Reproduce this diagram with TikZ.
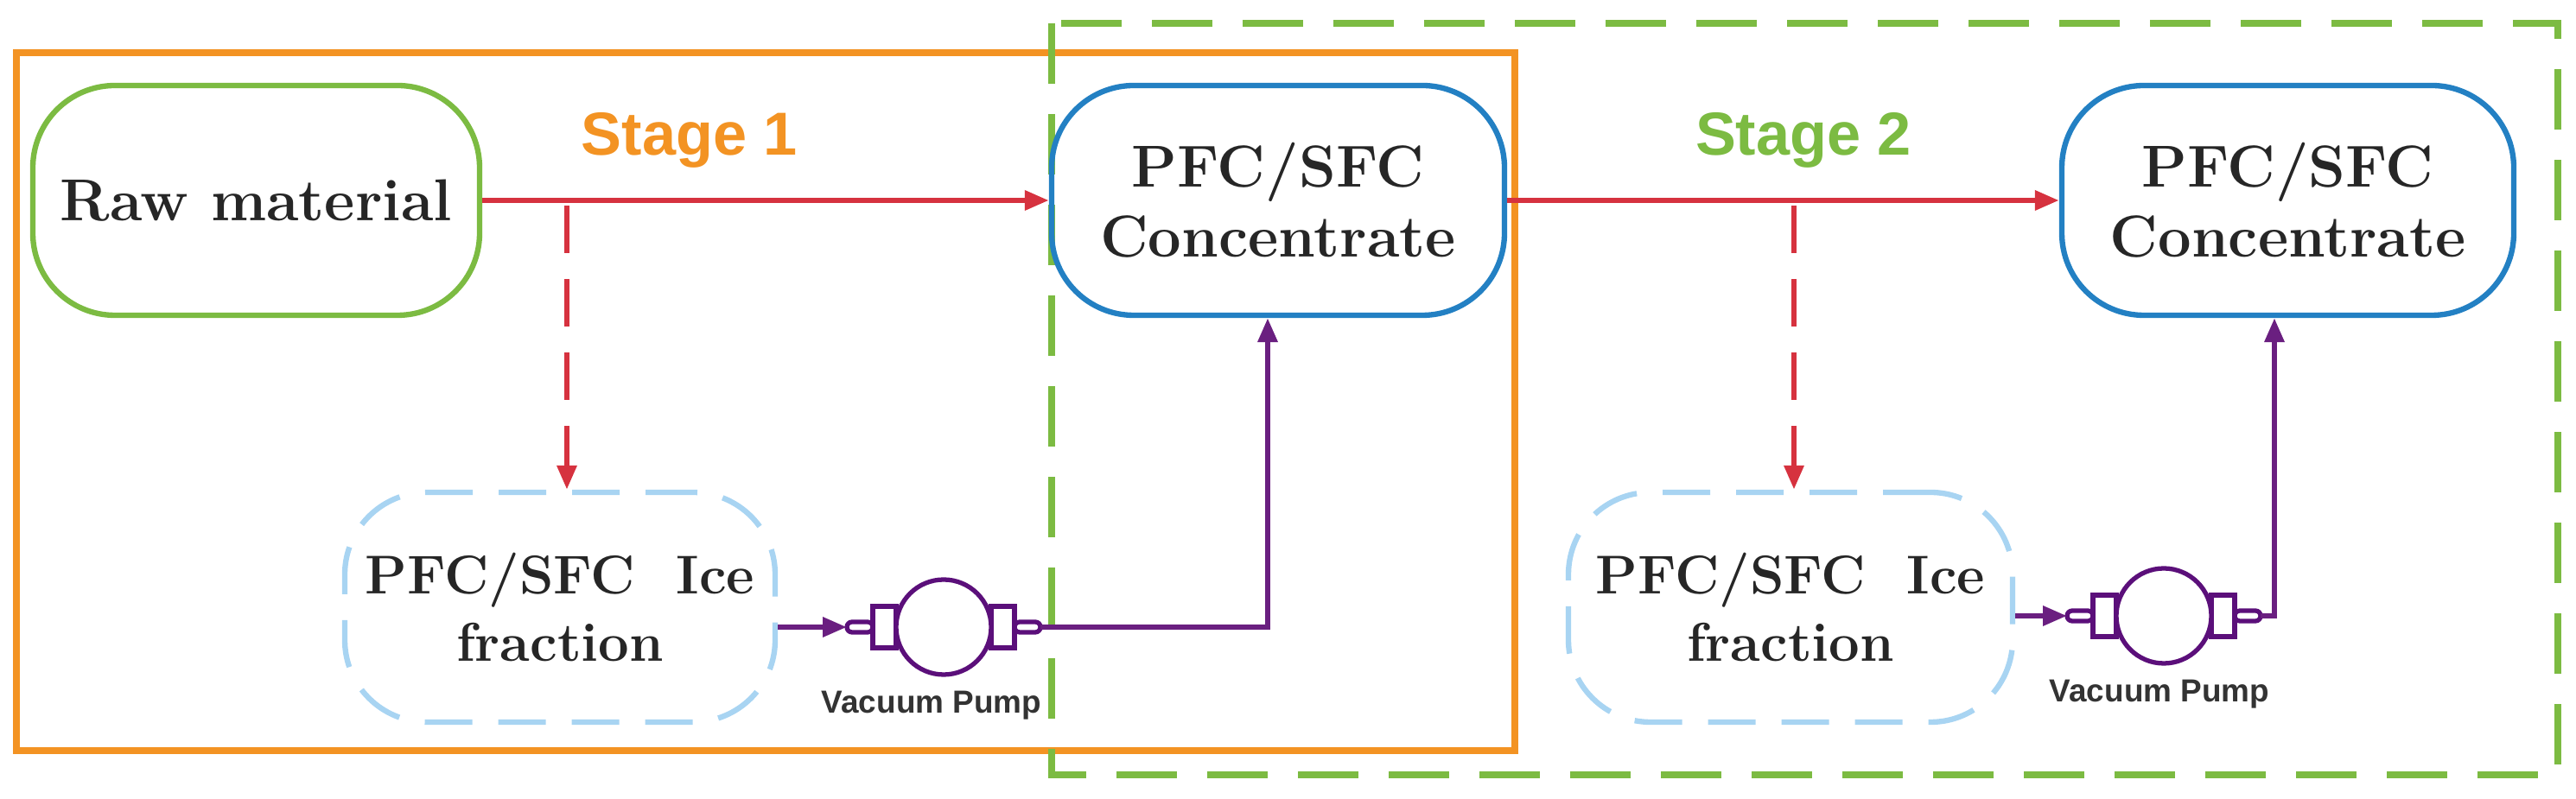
\documentclass[tikz,border=0pt]{standalone}
\usepackage{fontspec}
\newfontfamily\sansf{Liberation Sans}
\usetikzlibrary{arrows.meta}
\definecolor{orng}{HTML}{F39323}
\definecolor{grn}{HTML}{7CBB42}
\definecolor{blu}{HTML}{2380C3}
\definecolor{lblu}{HTML}{A8D4F2}
\definecolor{rd}{HTML}{D6323F}
\definecolor{purp}{HTML}{6A1F80}
\definecolor{dpurp}{HTML}{5B0F7A}
\begin{document}
\begin{tikzpicture}[x=1cm,y=-1cm,
 box/.style={draw,line width=1.8pt,rounded corners=0.95cm,align=center,font=\fontsize{19.5}{23}\selectfont\bfseries,text=black!85,inner sep=0},
 ice/.style={box,draw=lblu,dash pattern=on 0.55cm off 0.3cm,font=\fontsize{18}{22}\selectfont\bfseries},
 red/.style={draw=rd,line width=1.8pt,-{Triangle[length=0.28cm,width=0.22cm]}},
 pur/.style={draw=purp,line width=1.8pt,-{Triangle[length=0.28cm,width=0.22cm]}},
 stg/.style={font=\sansf\fontsize{20}{24}\selectfont\bfseries},
 vp/.style={font=\sansf\fontsize{10.5}{12}\selectfont\bfseries,text=black!80}]
\useasboundingbox (0,0) rectangle (29.81,9.25);
\draw[orng,line width=2.2pt] (0.19,0.61) rectangle (17.53,8.69);
\draw[grn,line width=2.2pt,dash pattern=on 0.7cm off 0.35cm] (12.17,0.27) rectangle (29.6,8.97);
\node[box,draw=grn,minimum width=5.17cm,minimum height=2.66cm] (raw) at (2.965,2.32) {Raw material};
\node[box,draw=blu,minimum width=5.24cm,minimum height=2.66cm] (c1) at (14.79,2.32) {PFC/SFC\\Concentrate};
\node[box,draw=blu,minimum width=5.23cm,minimum height=2.66cm] (c2) at (26.475,2.32) {PFC/SFC\\Concentrate};
\node[ice,minimum width=4.98cm,minimum height=2.66cm] (i1) at (6.48,7.03) {PFC/SFC\ \ Ice\\fraction};
\node[ice,minimum width=5.14cm,minimum height=2.66cm] (i2) at (20.72,7.03) {PFC/SFC\ \ Ice\\fraction};
\node[stg,text=orng] (s1) at (7.98,1.62) {Stage 1};
\node[stg,text=grn] (s2) at (20.87,1.62) {Stage 2};
% pumps
\foreach \n/\cx/\cy in {p1/10.92/7.26,p2/25.04/7.13}{
 \begin{scope}[shift={(\cx,\cy)},draw=dpurp,line width=1.5pt]
  \draw[rounded corners=0.06cm] (-1.12,-0.06) rectangle (-0.82,0.06);
  \draw (-0.82,-0.24) rectangle (-0.55,0.24);
  \draw[rounded corners=0.06cm] (1.12,-0.06) rectangle (0.82,0.06);
  \draw (0.82,-0.24) rectangle (0.55,0.24);
  \draw[fill=white] (0,0) circle (0.55);
  \coordinate (\n in) at (-1.12,0);
  \coordinate (\n out) at (1.12,0);
 \end{scope}}
\node[vp] (v1) at (10.78,8.17) {Vacuum Pump};
\node[vp] (v2) at (24.99,8.04) {Vacuum Pump};
% arrows
\draw[red] (raw.east) -- (c1.west);
\draw[red] (c1.east) -- (c2.west);
\coordinate (d1) at (6.56,2.38);
\coordinate (d2) at (20.76,2.38);
\draw[red,dash pattern=on 0.55cm off 0.3cm] (d1) -- (d1|-i1.north);
\draw[red,dash pattern=on 0.55cm off 0.3cm] (d2) -- (d2|-i2.north);
\draw[pur] (i1.east|-p1in) -- (p1in);
\draw[pur] (i2.east|-p2in) -- (p2in);
\draw[pur] (p1out) -| (c1.south-|14.67,0);
\draw[pur] (p2out) -| (c2.south-|26.32,0);
\end{tikzpicture}
\end{document}
